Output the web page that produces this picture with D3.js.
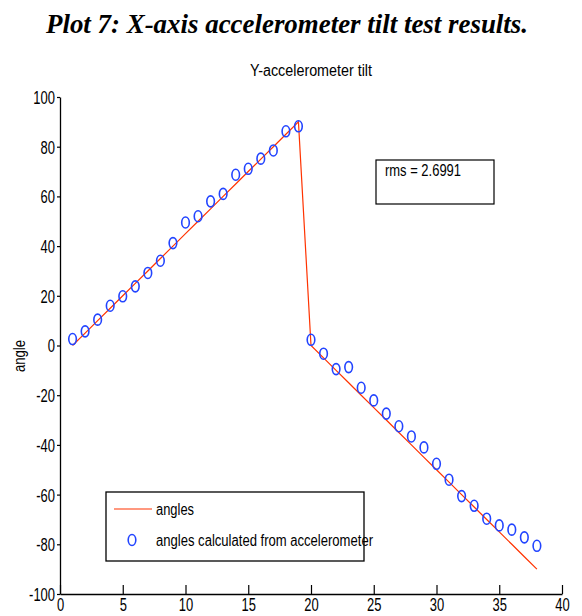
<!DOCTYPE html>
<html>
<head>
<meta charset="utf-8">
<script src="https://cdn.jsdelivr.net/npm/d3@7"></script>
<style>
  body { margin: 0; background: #fff; }
  svg { display: block; }
  .lbl { font-family: "Liberation Sans", Arial, sans-serif; fill: #000; }
</style>
</head>
<body>
<svg id="chart"></svg>
<script>
// Data
var sampleIndex = [1,2,3,4,5,6,7,8,9,10,11,12,13,14,15,16,17,18,19,20,21,22,23,24,25,26,27,28,29,30,31,32,33,34,35,36,37,38];
var trueAngles = [0,5,10,15,20,25,30,35,40,45,50,55,60,65,70,75,80,85,90,
  0,-5,-10,-15,-20,-25,-30,-35,-40,-45,-50,-55,-60,-65,-70,-75,-80,-85,-90];
var measuredAngles = [2.6,5.7,10.4,16,19.8,23.8,29.2,34.1,41.2,49.5,52,58,61,68.7,71.1,75.2,78.5,86.2,88.2,
  2.3,-3.3,-9.5,-8.7,-17,-22.1,-27.4,-32.5,-36.6,-41,-47.6,-54,-60.6,-64.5,-69.7,-72.4,-74.1,-77.2,-80.6];
var xTicks = [0,5,10,15,20,25,30,35,40];
var yTicks = [-100,-80,-60,-40,-20,0,20,40,60,80,100];
var legendLabels = ['angles', 'angles calculated from accelerometer'];
var rmsText = 'rms = 2.6991';

var config = {
  width: 582,
  height: 616,
  left: 60, right: 562, top: 97, bottom: 594,
  lineColor: '#ff3300',
  circleColor: '#2244ff'
};

var svg = d3.select('#chart')
  .attr('width', config.width)
  .attr('height', config.height);

var x = d3.scaleLinear().domain([0, 40]).range([config.left, config.right]);
var y = d3.scaleLinear().domain([-100, 100]).range([config.bottom, config.top]);

// squeeze text horizontally, matlab fonts look narrow
function squeeze(sel, factor) {
  sel.each(function() {
    var w = this.getComputedTextLength();
    d3.select(this).attr('textLength', w * factor).attr('lengthAdjust', 'spacingAndGlyphs');
  });
}
function fitTo(sel, w) {
  sel.attr('textLength', w).attr('lengthAdjust', 'spacingAndGlyphs');
}

// page title
svg.append('text')
  .attr('x', 287).attr('y', 33)
  .attr('text-anchor', 'middle')
  .style('font-family', '"Liberation Serif", "Times New Roman", serif')
  .style('font-weight', 'bold')
  .style('font-style', 'italic')
  .style('font-size', '28px')
  .text('Plot 7: X-axis accelerometer tilt test results.')
  .call(fitTo, 482);

// axes title
svg.append('text')
  .attr('class', 'lbl')
  .attr('x', 311).attr('y', 76)
  .attr('text-anchor', 'middle')
  .style('font-size', '16px')
  .text('Y-accelerometer tilt')
  .call(fitTo, 122);

// y label
svg.append('text')
  .attr('class', 'lbl')
  .attr('transform', 'translate(25,356) rotate(-90)')
  .attr('text-anchor', 'middle')
  .style('font-size', '16px')
  .text('angle')
  .call(fitTo, 32);

// axes (plain hyphen for negatives like the original)
var fmt = function(d) { return String(d); };
var xAxis = svg.append('g')
  .attr('transform', 'translate(0,' + config.bottom + ')')
  .call(d3.axisBottom(x).tickValues(xTicks).tickFormat(fmt).tickSizeInner(-9).tickSizeOuter(0).tickPadding(4));
var yAxis = svg.append('g')
  .attr('transform', 'translate(' + config.left + ',0)')
  .call(d3.axisLeft(y).tickValues(yTicks).tickFormat(fmt).tickSizeInner(3).tickSizeOuter(0).tickPadding(2));

[xAxis, yAxis].forEach(function(a) {
  a.select('.domain').attr('stroke', '#000').attr('stroke-width', 1.3);
  a.selectAll('.tick line').attr('stroke', '#000').attr('stroke-width', 1.2);
  a.selectAll('.tick text')
    .attr('class', 'lbl')
    .style('font-size', '18px')
    .attr('fill', '#000')
    .call(squeeze, 0.72);
});
xAxis.selectAll('.tick text').attr('y', 4).attr('dy', '0.72em');
yAxis.selectAll('.tick text').attr('dy', '0.36em');

// true angle line
var line = d3.line()
  .x(function(d, i) { return x(sampleIndex[i]); })
  .y(function(d) { return y(d); });

svg.append('path')
  .attr('d', line(trueAngles))
  .attr('fill', 'none')
  .attr('stroke', config.lineColor)
  .attr('stroke-width', 1.2);

// measured angles as circles
svg.append('g').selectAll('ellipse')
  .data(measuredAngles)
  .enter().append('ellipse')
  .attr('cx', function(d, i) { return x(sampleIndex[i]); })
  .attr('cy', function(d) { return y(d); })
  .attr('rx', 3.8)
  .attr('ry', 5.5)
  .attr('fill', 'none')
  .attr('stroke', config.circleColor)
  .attr('stroke-width', 1.6);

// rms box
svg.append('rect')
  .attr('x', 376).attr('y', 160).attr('width', 118).attr('height', 44)
  .attr('fill', '#fff').attr('stroke', '#000').attr('stroke-width', 1.2);
svg.append('text')
  .attr('class', 'lbl')
  .attr('x', 385).attr('y', 176)
  .style('font-size', '16px')
  .text(rmsText)
  .call(fitTo, 76);

// legend
var legend = svg.append('g');
legend.append('rect')
  .attr('x', 106).attr('y', 492).attr('width', 258).attr('height', 69)
  .attr('fill', '#fff').attr('stroke', '#000').attr('stroke-width', 1.3);
legend.append('line')
  .attr('x1', 114).attr('x2', 152).attr('y1', 509).attr('y2', 509)
  .attr('stroke', config.lineColor).attr('stroke-width', 1.2);
legend.append('ellipse')
  .attr('cx', 132).attr('cy', 540).attr('rx', 3.8).attr('ry', 5.5)
  .attr('fill', 'none').attr('stroke', config.circleColor).attr('stroke-width', 1.6);
legend.append('text')
  .attr('class', 'lbl')
  .attr('x', 156).attr('y', 515)
  .style('font-size', '16px')
  .text(legendLabels[0])
  .call(fitTo, 38);
legend.append('text')
  .attr('class', 'lbl')
  .attr('x', 156).attr('y', 546)
  .style('font-size', '16px')
  .text(legendLabels[1])
  .call(fitTo, 217);
</script>
</body>
</html>
